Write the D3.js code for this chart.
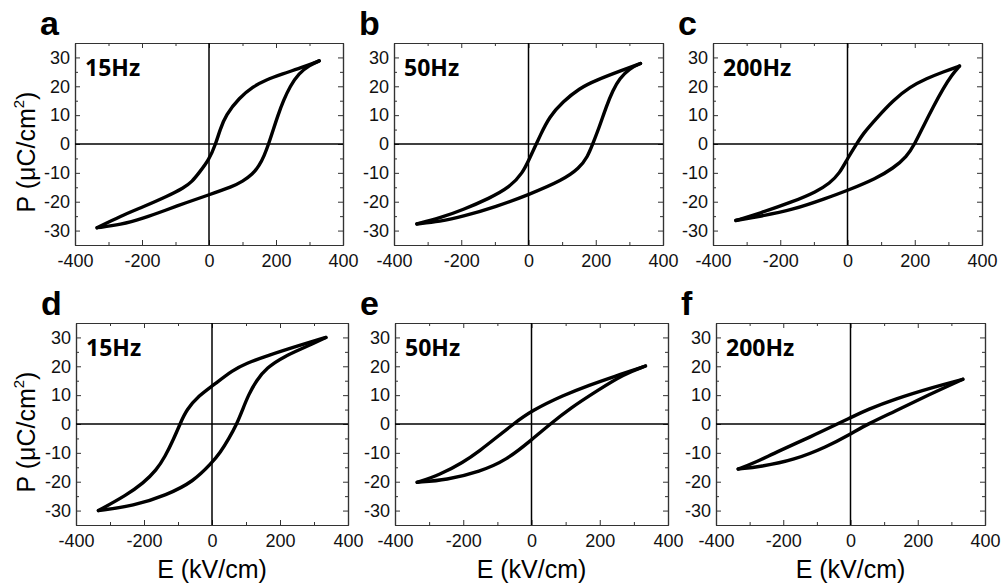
<!DOCTYPE html>
<html>
<head>
<meta charset="utf-8">
<script src="https://cdn.jsdelivr.net/npm/d3@7"></script>
<style>
  body { margin: 0; background: #fff; }
  svg { display: block; }
</style>
</head>
<body>
<script>
// axis ticks
var xTicks = [-400, -200, 0, 200, 400];
var xMinor = [-300, -100, 100, 300];
var yTicks = [-30, -20, -10, 0, 10, 20, 30];
var yMinor = [-35, -25, -15, -5, 5, 15, 25, 35];

var panelLetters = ["a", "b", "c", "d", "e", "f"];
var freqLabels = ["15Hz", "50Hz", "200Hz", "15Hz", "50Hz", "200Hz"];

// loops: [E (kV/cm), P (uC/cm2)]
// upper = field going down from +Emax, lower = field going up from -Emax
var aUpper = [[329, 28.8], [285, 26.8], [217, 24.2], [168, 22.1], [133, 20], [90, 16], [50, 10], [33, 5], [20, 0], [0, -5.5], [-30, -10], [-50, -13], [-75, -15.2], [-126, -18.2], [-195, -21.7], [-264, -25], [-334, -29]];
var aLower = [[-334, -29], [-264, -28], [-195, -25.7], [-126, -22.8], [-68, -20.3], [0, -17.6], [70, -14.8], [100, -13], [130, -10.5], [150, -7.5], [165, -4], [178, 0], [192, 5], [206, 10], [222, 15], [242, 20], [268, 24.5], [300, 27.3], [329, 28.8]];

var bUpper = [[333, 27.9], [280, 25.6], [201, 22.1], [151, 19.3], [102, 14.6], [62, 9.5], [33, 2.5], [23, 0], [3, -5], [-17, -10], [-56, -15], [-116, -18.8], [-195, -22.8], [-264, -25.7], [-332, -27.7]];
var bLower = [[-332, -27.7], [-264, -26.9], [-195, -25.1], [-96, -21.7], [0, -17.6], [102, -12.5], [151, -8.4], [176, -4.4], [191, 0], [211, 6], [231, 12.9], [251, 18.7], [271, 22.7], [300, 26.2], [333, 27.9]];

var cUpper = [[333, 27], [285, 25], [235, 22.7], [186, 19.8], [136, 15.2], [86, 8.9], [47, 3.7], [27, 0], [0, -5], [-23, -10.1], [-53, -13.6], [-92, -16.5], [-162, -20], [-261, -24], [-332, -26.5]];
var cLower = [[-332, -26.5], [-261, -25.1], [-162, -22.8], [-63, -18.8], [0, -16.1], [86, -11.9], [136, -8.4], [176, -4.4], [200, 0], [225, 6], [255, 12.9], [285, 19.3], [310, 23.9], [333, 27]];

var dUpper = [[335, 30], [259, 27.3], [161, 23.6], [100, 21], [63, 18.8], [0, 13.1], [-37, 10], [-75, 5], [-94, 0], [-114, -5.5], [-138, -11.3], [-163, -15.9], [-202, -20.5], [-251, -24.6], [-334, -30]];
var dLower = [[-334, -30], [-231, -28.4], [-133, -24.6], [-55, -20], [0, -13.4], [24, -10], [50, -5], [73, 0], [90, 5], [107, 10], [130, 15], [161, 19.5], [210, 23.3], [278, 26.8], [335, 30]];

var eUpper = [[334, 20.1], [241, 16.4], [170, 13.5], [94, 10], [0, 4.6], [-53, 0], [-102, -4.6], [-151, -9.2], [-200, -13.3], [-269, -17.6], [-335, -20.2]];
var eLower = [[-335, -20.2], [-249, -19.4], [-151, -16.5], [-73, -12.5], [0, -5.5], [55, 0], [114, 5.5], [192, 11.5], [271, 17.3], [334, 20.1]];

var fUpper = [[334, 15.5], [250, 12.9], [130, 8.6], [51, 5], [0, 2.2], [-39, 0], [-118, -4.4], [-218, -9.6], [-288, -13.6], [-334, -15.6]];
var fLower = [[-334, -15.6], [-268, -14.8], [-168, -12.5], [-69, -7.8], [0, -3.5], [51, 0], [130, 4.3], [230, 10], [334, 15.5]];

var loops = [[aUpper, aLower], [bUpper, bLower], [cUpper, cLower],
             [dUpper, dLower], [eUpper, eLower], [fUpper, fLower]];

// layout
var frames = [
  {x0: 75, x1: 343, y0: 43, y1: 245},
  {x0: 394, x1: 663, y0: 43, y1: 245},
  {x0: 713, x1: 982, y0: 43, y1: 245},
  {x0: 76, x1: 348, y0: 323, y1: 525},
  {x0: 395, x1: 668, y0: 323, y1: 525},
  {x0: 716, x1: 985, y0: 323, y1: 525}
];

var svg = d3.select("body").append("svg")
    .attr("width", 1001)
    .attr("height", 586);

var tickFont = "Liberation Sans, Arial, sans-serif";
var frameColor = "#333";
var plain = function (d) { return String(d); };   // keep the hyphen minus

frames.forEach(function (f, i) {
  var x = d3.scaleLinear().domain([-400, 400]).range([f.x0, f.x1]);
  var y = d3.scaleLinear().domain([-35, 35]).range([f.y1, f.y0]);
  var g = svg.append("g");

  // minor ticks
  g.append("g").attr("transform", "translate(0," + f.y1 + ")")
      .call(d3.axisBottom(x).tickValues(xMinor).tickSize(-3).tickSizeOuter(0).tickFormat(""));
  g.append("g").attr("transform", "translate(0," + f.y0 + ")")
      .call(d3.axisTop(x).tickValues(xMinor).tickSize(-3).tickSizeOuter(0).tickFormat(""));
  g.append("g").attr("transform", "translate(" + f.x0 + ",0)")
      .call(d3.axisLeft(y).tickValues(yMinor).tickSize(-3).tickSizeOuter(0).tickFormat(""));
  g.append("g").attr("transform", "translate(" + f.x1 + ",0)")
      .call(d3.axisRight(y).tickValues(yMinor).tickSize(-3).tickSizeOuter(0).tickFormat(""));

  // major ticks + labels
  g.append("g").attr("transform", "translate(0," + f.y1 + ")")
      .call(d3.axisBottom(x).tickValues(xTicks).tickSize(-5).tickSizeOuter(0).tickPadding(9).tickFormat(plain));
  g.append("g").attr("transform", "translate(0," + f.y0 + ")")
      .call(d3.axisTop(x).tickValues(xTicks).tickSize(-5).tickSizeOuter(0).tickFormat(""));
  g.append("g").attr("transform", "translate(" + f.x0 + ",0)")
      .call(d3.axisLeft(y).tickValues(yTicks).tickSize(-5).tickSizeOuter(0).tickPadding(5).tickFormat(plain));
  g.append("g").attr("transform", "translate(" + f.x1 + ",0)")
      .call(d3.axisRight(y).tickValues(yTicks).tickSize(-5).tickSizeOuter(0).tickFormat(""));

  g.selectAll(".domain").attr("stroke", frameColor).attr("stroke-width", 1.2);
  g.selectAll(".tick line").attr("stroke", frameColor).attr("stroke-width", 1);
  g.selectAll(".tick text")
      .attr("font-family", tickFont)
      .attr("font-size", 18)
      .attr("fill", "#111");

  // zero lines
  g.append("line")
      .attr("x1", x(-400)).attr("x2", x(400))
      .attr("y1", y(0)).attr("y2", y(0))
      .attr("stroke", "#000").attr("stroke-width", 1.5);
  g.append("line")
      .attr("x1", x(0)).attr("x2", x(0))
      .attr("y1", y(-35)).attr("y2", y(35))
      .attr("stroke", "#000").attr("stroke-width", 1.5);

  // hysteresis loop, smoothed b-spline through each branch
  var line = d3.line()
      .x(function (d) { return x(d[0]); })
      .y(function (d) { return y(d[1]); })
      .curve(d3.curveBasis);

  g.selectAll("path.loop")
    .data(loops[i])
    .enter()
    .append("path")
      .attr("class", "loop")
      .attr("d", line)
      .attr("fill", "none")
      .attr("stroke", "#000")
      .attr("stroke-width", 3.4)
      .attr("stroke-linejoin", "round")
      .attr("stroke-linecap", "round");

  // frequency label
  g.append("text")
      .attr("x", f.x0 + 10)
      .attr("y", f.y0 + 33)
      .attr("font-family", "Open Sans, sans-serif")
      .attr("font-weight", "bold")
      .attr("font-size", 23)
      .text(freqLabels[i]);

  // panel letter
  g.append("text")
      .attr("x", f.x0 - 35)
      .attr("y", f.y0 - 8)
      .attr("font-family", tickFont)
      .attr("font-weight", "bold")
      .attr("font-size", 34)
      .text(panelLetters[i]);

  // axis titles
  if (i % 3 === 0) {
    var ty = (f.y0 + f.y1) / 2 + 8;
    var t = g.append("text")
        .attr("transform", "translate(35," + ty + ") rotate(-90)")
        .attr("text-anchor", "middle")
        .attr("font-family", tickFont)
        .attr("font-size", 25);
    t.append("tspan").text("P (\u03bcC/cm");
    t.append("tspan").attr("font-size", 15).attr("dy", -11).text("2");
    t.append("tspan").attr("dy", 11).text(")");
  }
  if (i >= 3) {
    g.append("text")
        .attr("x", (f.x0 + f.x1) / 2)
        .attr("y", 578)
        .attr("text-anchor", "middle")
        .attr("font-family", tickFont)
        .attr("font-size", 25)
        .text("E (kV/cm)");
  }
});
</script>
</body>
</html>
